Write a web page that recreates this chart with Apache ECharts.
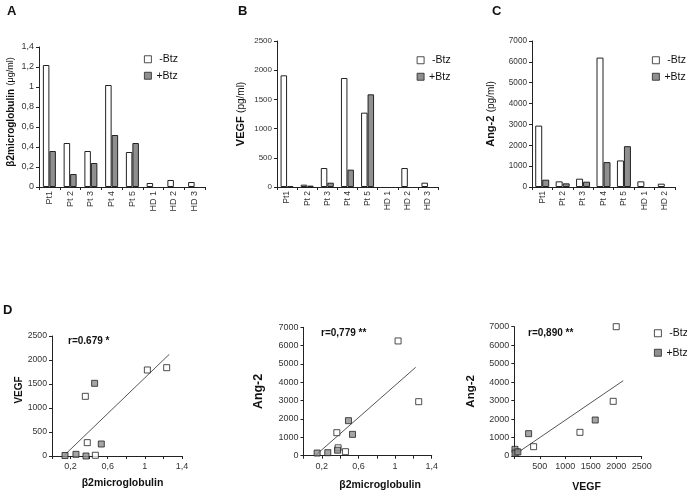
<!DOCTYPE html>
<html><head><meta charset="utf-8">
<script src="https://cdn.jsdelivr.net/npm/echarts@6/dist/echarts.min.js"></script>
<style>html,body{margin:0;padding:0;background:#fff}#c{width:687px;height:496px}</style>
</head><body><div id="c"></div>
<script>
// ---------- data ----------
const catsAB = ['Pt1','Pt 2','Pt 3','Pt 4','Pt 5','HD 1','HD 2','HD 3'];
const catsC  = ['Pt1','Pt 2','Pt 3','Pt 4','Pt 5','HD 1','HD 2'];
const b2Minus   = [1.22,0.44,0.36,1.02,0.35,0.04,0.07,0.05];
const b2Plus    = [0.36,0.13,0.24,0.52,0.44,null,null,null];
const vegfMinus = [1912,40,325,1866,1273,null,325,74];
const vegfPlus  = [17,23,74,297,1587,null,null,null];
const angMinus  = [2943,270,398,6205,1273,270,159];
const angPlus   = [350,175,254,1193,1957,null,null];
// correlation panels: [x, y]
const d1Minus = [[1.027,1792],[1.235,1840],[0.359,1243],[0.380,278],[0.467,15]];
const d1Plus  = [[0.459,1514],[0.531,250],[0.140,10],[0.258,35],[0.366,0]];
const d2Minus = [[1.033,6255],[1.258,2945],[0.364,1255],[0.458,218],[0.378,430]];
const d2Plus  = [[0.491,1909],[0.535,1164],[0.372,300],[0.265,164],[0.149,145]];
const d3Minus = [[2000,7000],[1941,2959],[1288,1281],[379,505],[40,230]];
const d3Plus  = [[1588,1948],[281,1209],[13,360],[15,150],[70,220]];
const trendD1 = [[0.136,21],[1.263,2118]];
const trendD2 = [[0.135,36],[1.225,4818]];
const trendD3 = [[46,144],[2137,4077]];
const rTexts = ['r=0.679 *','r=0,779 **','r=0,890 **'];
const b2XTickLabels = ['0,2','0,6','1','1,4'];
const seriesNames = ['-Btz','+Btz'];

// ---------- styles ----------
const FONT = 'Liberation Sans, Arial, sans-serif';
const INK = '#222';
const GRAY = '#8f8f8f';
const LBL = '#333';
const whiteStyle = {color:'#fff', borderColor:INK, borderWidth:1};
const grayStyle = {color:GRAY, borderColor:INK, borderWidth:1};

function commaFmt(v){ return String(Math.round(v*10)/10).replace('.', ','); }
function plainFmt(v){ return String(Math.round(v)); }
function b2XFmt(v){
  const s = commaFmt(v);
  return b2XTickLabels.indexOf(s) >= 0 ? s : '';
}

function catAxis(grid, data, fs){
  return {type:'category', gridIndex:grid, data:data,
    axisLine:{lineStyle:{color:INK,width:1}},
    axisTick:{show:true, length:3, alignWithLabel:false, lineStyle:{color:INK}},
    axisLabel:{rotate:90, margin:4, fontSize:fs, color:LBL, fontFamily:FONT, interval:0}};
}
function valAxisY(grid, max, interval, fs, name, gap, rich, fmt, pad){
  return {type:'value', gridIndex:grid, min:0, max:max, interval:interval,
    name:name, nameLocation:'middle', nameRotate:90, nameGap:gap,
    nameTextStyle:{fontFamily:FONT, color:'#111', rich:rich, padding:pad||0},
    axisLine:{show:true, lineStyle:{color:INK,width:1}},
    axisTick:{show:true, length:3, lineStyle:{color:INK}},
    splitLine:{show:false},
    axisLabel:{fontSize:fs, color:LBL, fontFamily:FONT, margin:5, formatter:fmt}};
}
function valAxisX(grid, max, interval, fs, name, gap, fmt, nameFs, pad){
  return {type:'value', gridIndex:grid, min:0, max:max, interval:interval,
    name:name, nameLocation:'middle', nameGap:gap,
    nameTextStyle:{fontFamily:FONT, color:'#111', fontWeight:'bold', fontSize:nameFs, padding:pad||0},
    axisLine:{show:true, onZero:false, lineStyle:{color:INK,width:1}},
    axisTick:{show:true, length:3, lineStyle:{color:INK}},
    splitLine:{show:false},
    axisLabel:{fontSize:fs, color:LBL, fontFamily:FONT, margin:6, formatter:fmt}};
}

function richName(bs, ns){
  return {b:{fontWeight:'bold', fontSize:bs, fontFamily:FONT, color:'#111'},
          n:{fontWeight:'normal', fontSize:ns, fontFamily:FONT, color:'#111'}};
}

function legendAt(left, top, gap){
  return {orient:'vertical', left:left, top:top, itemWidth:7, itemHeight:7, itemGap:gap,
    selectedMode:false, padding:0,
    itemStyle:{borderWidth:0.8, borderColor:INK},
    formatter: n => n === '-Btz' ? ' -Btz' : n,
    textStyle:{fontSize:10.5, color:'#111', fontFamily:FONT},
    data:[{name:seriesNames[0], icon:'rect'},{name:seriesNames[1], icon:'rect'}]};
}

function barSeries(name, data, xi, style, bw){
  return {type:'bar', name:name, data:data, xAxisIndex:xi, yAxisIndex:xi,
    barWidth:bw, barGap:'0%', itemStyle:style, animation:false};
}
function scatterSeries(name, data, i, style){
  return {type:'scatter', name:name, data:data, xAxisIndex:i, yAxisIndex:i,
    symbol:'rect', symbolSize:6, itemStyle:style, z:3, animation:false};
}
function trendSeries(data, i){
  return {type:'line', data:data, xAxisIndex:i, yAxisIndex:i, showSymbol:false, symbol:'none',
    lineStyle:{color:'#555', width:1}, silent:true, z:2, animation:false};
}

const grids = [
  {left:39, top:47, width:166, height:140},
  {left:277, top:41, width:161, height:146},
  {left:532, top:41, width:143, height:146},
  {left:52, top:336, width:130, height:120},
  {left:303.5, top:327.3, width:128.2, height:128.4},
  {left:514.3, top:326.7, width:127.4, height:129.3}
].map(g => Object.assign(g, {containLabel:false, outerBoundsMode:'none'}));

function letter(t, x, y){
  return {type:'text', left:x, top:y, style:{text:t, font:'bold 13px '+FONT, fill:'#111'}};
}
function rText(t, x, y){
  return {type:'text', x:x, y:y, style:{text:t, font:'bold 10px '+FONT, fill:'#111', verticalAlign:'middle'}};
}

const option = {
  backgroundColor:'#fff',
  animation:false,
  grid: grids,
  xAxis: [
    catAxis(0, catsAB, 9),
    catAxis(1, catsAB, 8.5),
    catAxis(2, catsC, 8.5),
    valAxisX(3, 1.4, 0.2, 9, 'β2microglobulin', 22, b2XFmt, 10.5, [0,0,0,11]),
    valAxisX(4, 1.4, 0.2, 9, 'β2microglobulin', 24, b2XFmt, 10.5, [0,0,0,25]),
    valAxisX(5, 2500, 500, 9, 'VEGF', 26, v => v === 0 ? '' : plainFmt(v), 10.5, [0,0,0,17])
  ],
  yAxis: [
    valAxisY(0, 1.4, 0.2, 9, '{b|β2microglobulin} {n|(μg/ml)}', 22, richName(10,9), commaFmt, [0,0,0,10]),
    valAxisY(1, 2500, 500, 8, '{b|VEGF} {n|(pg/ml)}', 30, richName(11,10), plainFmt),
    valAxisY(2, 7000, 1000, 8.2, '{b|Ang-2} {n|(pg/ml)}', 35, richName(11,10), plainFmt),
    valAxisY(3, 2500, 500, 8.7, '{b|VEGF}', 28, richName(10,10), plainFmt, [0,0,0,12]),
    valAxisY(4, 7000, 1000, 9, '{b|Ang-2}', 39, richName(12.4,10), plainFmt),
    valAxisY(5, 7000, 1000, 9, '{b|Ang-2}', 37, richName(11.5,10), plainFmt)
  ],
  legend: [
    legendAt(144, 53.75, 5.5),
    legendAt(416.7, 54.75, 5.5),
    legendAt(652, 54.75, 5.5),
    legendAt(654, 327.75, 8.5)
  ],
  graphic: [
    letter('A', 7, 5), letter('B', 238, 5), letter('C', 492, 5), letter('D', 3, 304),
    rText(rTexts[0], 68, 341), rText(rTexts[1], 321, 333), rText(rTexts[2], 528, 333)
  ],
  series: [
    barSeries(seriesNames[0], b2Minus, 0, whiteStyle, 6.5),
    barSeries(seriesNames[1], b2Plus, 0, grayStyle, 6.5),
    barSeries(seriesNames[0], vegfMinus, 1, whiteStyle, 6.5),
    barSeries(seriesNames[1], vegfPlus, 1, grayStyle, 6.5),
    barSeries(seriesNames[0], angMinus, 2, whiteStyle, 7),
    barSeries(seriesNames[1], angPlus, 2, grayStyle, 7),
    trendSeries(trendD1, 3), scatterSeries(seriesNames[0], d1Minus, 3, whiteStyle), scatterSeries(seriesNames[1], d1Plus, 3, grayStyle),
    trendSeries(trendD2, 4), scatterSeries(seriesNames[0], d2Minus, 4, whiteStyle), scatterSeries(seriesNames[1], d2Plus, 4, grayStyle),
    trendSeries(trendD3, 5), scatterSeries(seriesNames[0], d3Minus, 5, whiteStyle), scatterSeries(seriesNames[1], d3Plus, 5, grayStyle)
  ]
};
const chart = echarts.init(document.getElementById('c'), null, {renderer:'canvas'});
chart.setOption(option);
</script></body></html>
